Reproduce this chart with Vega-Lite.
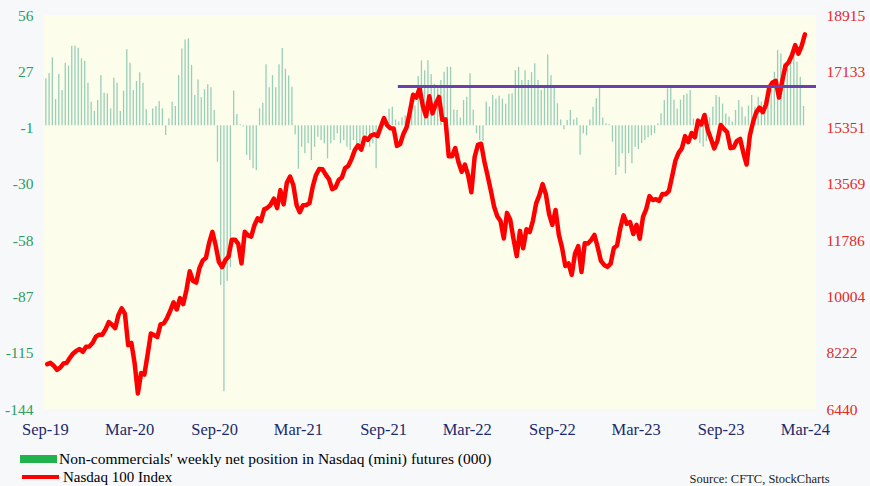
{
  "$schema": "https://vega.github.io/schema/vega-lite/v6.json",
  "width": 772,
  "height": 394,
  "autosize": {"type": "none"},
  "padding": {"left": 44, "top": 15, "right": 54, "bottom": 77},
  "background": "#f7f8fa",
  "config": {"view": {"fill": "#fdfdec", "stroke": null}, "font": "Liberation Serif"},
  "datasets": {
    "cot": [
      {"d":"2019-09-03","n":23.9},{"d":"2019-09-10","n":26.4},{"d":"2019-09-17","n":34.5},{"d":"2019-09-24","n":13.3},{"d":"2019-10-01","n":26},{"d":"2019-10-08","n":17.9},{"d":"2019-10-15","n":31.8},{"d":"2019-10-22","n":30.3},{"d":"2019-10-29","n":40.4},{"d":"2019-11-05","n":40.4},{"d":"2019-11-12","n":39.4},{"d":"2019-11-19","n":34},{"d":"2019-11-26","n":32.8},{"d":"2019-12-03","n":21.6},{"d":"2019-12-10","n":12},{"d":"2019-12-17","n":7.3},{"d":"2019-12-24","n":12.8},{"d":"2019-12-31","n":25.5},
      {"d":"2020-01-07","n":16.5},{"d":"2020-01-14","n":16.2},{"d":"2020-01-21","n":8.6},{"d":"2020-01-28","n":24.2},{"d":"2020-02-04","n":21.6},{"d":"2020-02-11","n":7.3},{"d":"2020-02-18","n":17.6},{"d":"2020-02-25","n":38.6},{"d":"2020-03-03","n":31.8},{"d":"2020-03-10","n":17.9},{"d":"2020-03-17","n":22.5},{"d":"2020-03-24","n":26.9},{"d":"2020-03-31","n":21.6},{"d":"2020-04-07","n":8.1},{"d":"2020-04-14","n":1},{"d":"2020-04-21","n":8.6},{"d":"2020-04-28","n":9.8},{"d":"2020-05-05","n":12.3},{"d":"2020-05-12","n":8.6},{"d":"2020-05-19","n":-4.9},{"d":"2020-05-26","n":3.6},{"d":"2020-06-02","n":12},{"d":"2020-06-09","n":9.8},{"d":"2020-06-16","n":25.5},{"d":"2020-06-23","n":39},{"d":"2020-06-30","n":43.6},{"d":"2020-07-07","n":44.1},{"d":"2020-07-14","n":30.6},{"d":"2020-07-21","n":15.4},{"d":"2020-07-28","n":23.3},{"d":"2020-08-04","n":14.2},{"d":"2020-08-11","n":18.3},{"d":"2020-08-18","n":20.8},{"d":"2020-08-25","n":19.3},{"d":"2020-09-01","n":7.8},{"d":"2020-09-08","n":-18.5},{"d":"2020-09-15","n":-81},{"d":"2020-09-22","n":-135},{"d":"2020-09-29","n":-79},{"d":"2020-10-06","n":-72},{"d":"2020-10-13","n":17.6},{"d":"2020-10-20","n":5.7},{"d":"2020-10-27","n":0.5},{"d":"2020-11-03","n":-0.5},{"d":"2020-11-10","n":-15},{"d":"2020-11-17","n":-17.6},{"d":"2020-11-24","n":-21.8},{"d":"2020-12-01","n":-22.7},{"d":"2020-12-08","n":8.6},{"d":"2020-12-15","n":11.5},{"d":"2020-12-22","n":31},{"d":"2020-12-29","n":19.3},
      {"d":"2021-01-05","n":25.5},{"d":"2021-01-12","n":19.3},{"d":"2021-01-19","n":31},{"d":"2021-01-26","n":39.2},{"d":"2021-02-02","n":28.7},{"d":"2021-02-09","n":25.3},{"d":"2021-02-16","n":19.6},{"d":"2021-02-23","n":-4.5},{"d":"2021-03-02","n":-22},{"d":"2021-03-09","n":-10.9},{"d":"2021-03-16","n":-14.2},{"d":"2021-03-23","n":-9.1},{"d":"2021-03-30","n":-17.6},{"d":"2021-04-06","n":-10.9},{"d":"2021-04-13","n":-5.8},{"d":"2021-04-20","n":-7.5},{"d":"2021-04-27","n":-9.1},{"d":"2021-05-04","n":-16.8},{"d":"2021-05-11","n":-9.1},{"d":"2021-05-18","n":-7.5},{"d":"2021-05-25","n":-4},{"d":"2021-06-01","n":-9.1},{"d":"2021-06-08","n":-7.5},{"d":"2021-06-15","n":-10.9},{"d":"2021-06-22","n":-12.5},{"d":"2021-06-29","n":-7.5},{"d":"2021-07-06","n":-10.9},{"d":"2021-07-13","n":-9.1},{"d":"2021-07-20","n":-5.8},{"d":"2021-07-27","n":-7.5},{"d":"2021-08-03","n":-10.9},{"d":"2021-08-10","n":-9.1},{"d":"2021-08-17","n":-21.8},{"d":"2021-08-24","n":-2},{"d":"2021-08-31","n":1},{"d":"2021-09-07","n":3},{"d":"2021-09-14","n":8.6},{"d":"2021-09-21","n":9.4},{"d":"2021-09-28","n":3},{"d":"2021-10-05","n":2},{"d":"2021-10-12","n":4},{"d":"2021-10-19","n":5},{"d":"2021-10-26","n":6},{"d":"2021-11-02","n":8},{"d":"2021-11-09","n":10},{"d":"2021-11-16","n":25},{"d":"2021-11-23","n":33},{"d":"2021-11-30","n":28},{"d":"2021-12-07","n":33},{"d":"2021-12-14","n":26},{"d":"2021-12-21","n":21},{"d":"2021-12-28","n":18.8},
      {"d":"2022-01-04","n":23},{"d":"2022-01-11","n":27.2},{"d":"2022-01-18","n":29.7},{"d":"2022-01-25","n":29.7},{"d":"2022-02-01","n":8},{"d":"2022-02-08","n":7.8},{"d":"2022-02-15","n":4},{"d":"2022-02-22","n":12.8},{"d":"2022-03-01","n":14.5},{"d":"2022-03-08","n":26.4},{"d":"2022-03-15","n":8},{"d":"2022-03-22","n":-4},{"d":"2022-03-29","n":-7.5},{"d":"2022-04-05","n":-8},{"d":"2022-04-12","n":12},{"d":"2022-04-19","n":9.5},{"d":"2022-04-26","n":15.4},{"d":"2022-05-03","n":13.5},{"d":"2022-05-10","n":15},{"d":"2022-05-17","n":13.5},{"d":"2022-05-24","n":11},{"d":"2022-05-31","n":16},{"d":"2022-06-07","n":16.2},{"d":"2022-06-14","n":28},{"d":"2022-06-21","n":29.7},{"d":"2022-06-28","n":23},{"d":"2022-07-05","n":28},{"d":"2022-07-12","n":23},{"d":"2022-07-19","n":27},{"d":"2022-07-26","n":31.5},{"d":"2022-08-02","n":23},{"d":"2022-08-09","n":17.9},{"d":"2022-08-16","n":20},{"d":"2022-08-23","n":36},{"d":"2022-08-30","n":25.5},{"d":"2022-09-06","n":19.6},{"d":"2022-09-13","n":11.2},{"d":"2022-09-20","n":3},{"d":"2022-09-27","n":-2},{"d":"2022-10-04","n":2.7},{"d":"2022-10-11","n":7.8},{"d":"2022-10-18","n":3},{"d":"2022-10-25","n":4},{"d":"2022-11-01","n":-15},{"d":"2022-11-08","n":-4},{"d":"2022-11-15","n":-5},{"d":"2022-11-22","n":3},{"d":"2022-11-29","n":9.4},{"d":"2022-12-06","n":13.7},{"d":"2022-12-13","n":19.6},{"d":"2022-12-20","n":4},{"d":"2022-12-27","n":1},
      {"d":"2023-01-03","n":0.5},{"d":"2023-01-10","n":-8.3},{"d":"2023-01-17","n":-25.2},{"d":"2023-01-24","n":-21},{"d":"2023-01-31","n":-14.2},{"d":"2023-02-07","n":-24.4},{"d":"2023-02-14","n":-14},{"d":"2023-02-21","n":-19.3},{"d":"2023-02-28","n":-10.9},{"d":"2023-03-07","n":-12},{"d":"2023-03-14","n":-9},{"d":"2023-03-21","n":-7.5},{"d":"2023-03-28","n":-6},{"d":"2023-04-04","n":-5},{"d":"2023-04-11","n":-4},{"d":"2023-04-18","n":1},{"d":"2023-04-25","n":6.1},{"d":"2023-05-02","n":12.8},{"d":"2023-05-09","n":18.8},{"d":"2023-05-16","n":20.5},{"d":"2023-05-23","n":13},{"d":"2023-05-30","n":8.6},{"d":"2023-06-06","n":13},{"d":"2023-06-13","n":15.4},{"d":"2023-06-20","n":16.2},{"d":"2023-06-27","n":17.9},{"d":"2023-07-04","n":3.5},{"d":"2023-07-11","n":-5.8},{"d":"2023-07-18","n":-9.1},{"d":"2023-07-25","n":-10.9},{"d":"2023-08-01","n":-8},{"d":"2023-08-08","n":4},{"d":"2023-08-15","n":9.4},{"d":"2023-08-22","n":15.4},{"d":"2023-08-29","n":14.5},{"d":"2023-09-05","n":11},{"d":"2023-09-12","n":6},{"d":"2023-09-19","n":4.5},{"d":"2023-09-26","n":2},{"d":"2023-10-03","n":7.8},{"d":"2023-10-10","n":12.8},{"d":"2023-10-17","n":9.4},{"d":"2023-10-24","n":4.5},{"d":"2023-10-31","n":10},{"d":"2023-11-07","n":15.4},{"d":"2023-11-14","n":9.4},{"d":"2023-11-21","n":14.5},{"d":"2023-11-28","n":12},{"d":"2023-12-05","n":11.2},{"d":"2023-12-12","n":19.6},{"d":"2023-12-19","n":18},{"d":"2023-12-26","n":27.2},
      {"d":"2024-01-02","n":38.2},{"d":"2024-01-09","n":36.5},{"d":"2024-01-16","n":31.5},{"d":"2024-01-23","n":30.5},{"d":"2024-01-30","n":33.1},{"d":"2024-02-06","n":37.4},{"d":"2024-02-13","n":32.3},{"d":"2024-02-20","n":24.7},{"d":"2024-02-27","n":9.8}
    ],
    "ndx": [
      {"d":"2019-09-06","v":7860},{"d":"2019-09-13","v":7900},{"d":"2019-09-20","v":7810},{"d":"2019-09-27","v":7680},{"d":"2019-10-04","v":7750},{"d":"2019-10-11","v":7880},{"d":"2019-10-18","v":7900},{"d":"2019-10-25","v":8060},{"d":"2019-11-01","v":8200},{"d":"2019-11-08","v":8280},{"d":"2019-11-15","v":8340},{"d":"2019-11-22","v":8250},{"d":"2019-11-29","v":8410},{"d":"2019-12-06","v":8420},{"d":"2019-12-13","v":8530},{"d":"2019-12-20","v":8730},{"d":"2019-12-27","v":8790},
      {"d":"2020-01-03","v":8790},{"d":"2020-01-10","v":8960},{"d":"2020-01-17","v":9190},{"d":"2020-01-24","v":9110},{"d":"2020-01-31","v":9000},{"d":"2020-02-07","v":9420},{"d":"2020-02-14","v":9630},{"d":"2020-02-21","v":9450},{"d":"2020-02-28","v":8460},{"d":"2020-03-06","v":8530},{"d":"2020-03-13","v":7880},{"d":"2020-03-20","v":6930},{"d":"2020-03-27","v":7580},{"d":"2020-04-03","v":7530},{"d":"2020-04-10","v":8160},{"d":"2020-04-17","v":8830},{"d":"2020-04-24","v":8780},{"d":"2020-05-01","v":8720},{"d":"2020-05-08","v":9120},{"d":"2020-05-15","v":9150},{"d":"2020-05-22","v":9320},{"d":"2020-05-29","v":9550},{"d":"2020-06-05","v":9820},{"d":"2020-06-12","v":9590},{"d":"2020-06-19","v":9950},{"d":"2020-06-26","v":9760},{"d":"2020-07-03","v":10210},{"d":"2020-07-10","v":10800},{"d":"2020-07-17","v":10500},{"d":"2020-07-24","v":10440},{"d":"2020-07-31","v":10900},{"d":"2020-08-07","v":11140},{"d":"2020-08-14","v":11220},{"d":"2020-08-21","v":11700},{"d":"2020-08-28","v":12050},{"d":"2020-09-04","v":11630},{"d":"2020-09-11","v":11100},{"d":"2020-09-18","v":10930},{"d":"2020-09-25","v":11150},{"d":"2020-10-02","v":11270},{"d":"2020-10-09","v":11800},{"d":"2020-10-16","v":11800},{"d":"2020-10-23","v":11670},{"d":"2020-10-30","v":11050},{"d":"2020-11-06","v":12050},{"d":"2020-11-13","v":11940},{"d":"2020-11-20","v":11900},{"d":"2020-11-27","v":12260},{"d":"2020-12-04","v":12480},{"d":"2020-12-11","v":12390},{"d":"2020-12-18","v":12760},{"d":"2020-12-24","v":12800},
      {"d":"2020-12-31","v":12890},{"d":"2021-01-08","v":13100},{"d":"2021-01-15","v":12800},{"d":"2021-01-22","v":13370},{"d":"2021-01-29","v":12920},{"d":"2021-02-05","v":13600},{"d":"2021-02-12","v":13800},{"d":"2021-02-19","v":13530},{"d":"2021-02-26","v":12900},{"d":"2021-03-05","v":12670},{"d":"2021-03-12","v":12890},{"d":"2021-03-19","v":12900},{"d":"2021-03-26","v":12960},{"d":"2021-04-02","v":13480},{"d":"2021-04-09","v":13850},{"d":"2021-04-16","v":14040},{"d":"2021-04-23","v":14030},{"d":"2021-04-30","v":13860},{"d":"2021-05-07","v":13720},{"d":"2021-05-14","v":13400},{"d":"2021-05-21","v":13450},{"d":"2021-05-28","v":13690},{"d":"2021-06-04","v":13770},{"d":"2021-06-11","v":14070},{"d":"2021-06-18","v":14140},{"d":"2021-06-25","v":14360},{"d":"2021-07-02","v":14640},{"d":"2021-07-09","v":14790},{"d":"2021-07-16","v":14650},{"d":"2021-07-23","v":15030},{"d":"2021-07-30","v":14960},{"d":"2021-08-06","v":15100},{"d":"2021-08-13","v":15140},{"d":"2021-08-20","v":15080},{"d":"2021-08-27","v":15370},{"d":"2021-09-03","v":15650},{"d":"2021-09-10","v":15420},{"d":"2021-09-17","v":15330},{"d":"2021-09-24","v":15320},{"d":"2021-10-01","v":14770},{"d":"2021-10-08","v":14830},{"d":"2021-10-15","v":15150},{"d":"2021-10-22","v":15360},{"d":"2021-10-29","v":15850},{"d":"2021-11-05","v":16390},{"d":"2021-11-12","v":16300},{"d":"2021-11-19","v":16600},{"d":"2021-11-26","v":16030},{"d":"2021-12-03","v":15710},{"d":"2021-12-10","v":16340},{"d":"2021-12-17","v":15800},{"d":"2021-12-24","v":16100},{"d":"2021-12-31","v":16320},
      {"d":"2022-01-07","v":15600},{"d":"2022-01-14","v":15610},{"d":"2022-01-21","v":14440},{"d":"2022-01-28","v":14440},{"d":"2022-02-04","v":14700},{"d":"2022-02-11","v":14260},{"d":"2022-02-18","v":13950},{"d":"2022-02-25","v":14180},{"d":"2022-03-04","v":13840},{"d":"2022-03-11","v":13300},{"d":"2022-03-18","v":14420},{"d":"2022-03-25","v":14800},{"d":"2022-04-01","v":14840},{"d":"2022-04-08","v":14280},{"d":"2022-04-14","v":13900},{"d":"2022-04-22","v":13360},{"d":"2022-04-29","v":12850},{"d":"2022-05-06","v":12540},{"d":"2022-05-13","v":12390},{"d":"2022-05-20","v":11840},{"d":"2022-05-27","v":12650},{"d":"2022-06-03","v":12430},{"d":"2022-06-10","v":11830},{"d":"2022-06-17","v":11280},{"d":"2022-06-24","v":12080},{"d":"2022-07-01","v":11530},{"d":"2022-07-08","v":12130},{"d":"2022-07-15","v":12040},{"d":"2022-07-22","v":12400},{"d":"2022-07-29","v":12950},{"d":"2022-08-05","v":13210},{"d":"2022-08-12","v":13560},{"d":"2022-08-19","v":13240},{"d":"2022-08-26","v":12610},{"d":"2022-09-02","v":12270},{"d":"2022-09-09","v":12740},{"d":"2022-09-16","v":11960},{"d":"2022-09-23","v":11550},{"d":"2022-09-30","v":10970},{"d":"2022-10-07","v":11050},{"d":"2022-10-14","v":10690},{"d":"2022-10-21","v":11360},{"d":"2022-10-28","v":11600},{"d":"2022-11-04","v":10780},{"d":"2022-11-11","v":11690},{"d":"2022-11-18","v":11680},{"d":"2022-11-25","v":11790},{"d":"2022-12-02","v":11950},{"d":"2022-12-09","v":11570},{"d":"2022-12-16","v":11130},{"d":"2022-12-23","v":11000},{"d":"2022-12-30","v":10940},
      {"d":"2023-01-06","v":11040},{"d":"2023-01-13","v":11540},{"d":"2023-01-20","v":11620},{"d":"2023-01-27","v":12170},{"d":"2023-02-03","v":12570},{"d":"2023-02-10","v":12300},{"d":"2023-02-17","v":12360},{"d":"2023-02-24","v":11980},{"d":"2023-03-03","v":12270},{"d":"2023-03-10","v":11830},{"d":"2023-03-17","v":12520},{"d":"2023-03-24","v":12770},{"d":"2023-03-31","v":13180},{"d":"2023-04-07","v":13060},{"d":"2023-04-14","v":13080},{"d":"2023-04-21","v":13030},{"d":"2023-04-28","v":13250},{"d":"2023-05-05","v":13240},{"d":"2023-05-12","v":13340},{"d":"2023-05-19","v":13810},{"d":"2023-05-26","v":14300},{"d":"2023-06-02","v":14550},{"d":"2023-06-09","v":14690},{"d":"2023-06-16","v":15080},{"d":"2023-06-23","v":14890},{"d":"2023-06-30","v":15180},{"d":"2023-07-07","v":15040},{"d":"2023-07-14","v":15570},{"d":"2023-07-21","v":15450},{"d":"2023-07-28","v":15750},{"d":"2023-08-04","v":15270},{"d":"2023-08-11","v":14990},{"d":"2023-08-18","v":14690},{"d":"2023-08-25","v":14940},{"d":"2023-09-01","v":15430},{"d":"2023-09-08","v":15310},{"d":"2023-09-15","v":15200},{"d":"2023-09-22","v":14700},{"d":"2023-09-29","v":14720},{"d":"2023-10-06","v":14930},{"d":"2023-10-13","v":14990},{"d":"2023-10-20","v":14550},{"d":"2023-10-27","v":14180},{"d":"2023-11-03","v":15100},{"d":"2023-11-10","v":15530},{"d":"2023-11-17","v":15840},{"d":"2023-11-24","v":15980},{"d":"2023-12-01","v":15840},{"d":"2023-12-08","v":16080},{"d":"2023-12-15","v":16620},{"d":"2023-12-22","v":16780},{"d":"2023-12-29","v":16830},
      {"d":"2024-01-05","v":16300},{"d":"2024-01-12","v":16830},{"d":"2024-01-19","v":17310},{"d":"2024-01-26","v":17420},{"d":"2024-02-02","v":17640},{"d":"2024-02-09","v":17960},{"d":"2024-02-16","v":17690},{"d":"2024-02-23","v":17940},{"d":"2024-03-01","v":18300}
    ],
    "level": [{"start":"2021-10-03","end":"2024-03-25","level":16650}]
  },
  "layer": [
    {
      "data": {"name": "cot"},
      "mark": {"type": "rule", "strokeWidth": 1.3},
      "encoding": {
        "x": {
          "field": "d", "type": "temporal",
          "scale": {"type": "utc", "domain": [{"year":2019,"month":8,"date":30,"utc":true},{"year":2024,"month":3,"date":25,"utc":true}]},
          "axis": {
            "values": [
              {"year":2019,"month":9,"date":1,"utc":true},{"year":2020,"month":3,"date":1,"utc":true},
              {"year":2020,"month":9,"date":1,"utc":true},{"year":2021,"month":3,"date":1,"utc":true},
              {"year":2021,"month":9,"date":1,"utc":true},{"year":2022,"month":3,"date":1,"utc":true},
              {"year":2022,"month":9,"date":1,"utc":true},{"year":2023,"month":3,"date":1,"utc":true},
              {"year":2023,"month":9,"date":1,"utc":true},{"year":2024,"month":3,"date":1,"utc":true}
            ],
            "labelExpr": "utcFormat(datum.value, '%b-%y')",
            "labelFont": "Liberation Serif", "labelFontSize": 16.5, "labelColor": "#1c2a6b",
            "labelPadding": 12, "ticks": false, "domain": false, "grid": false,
            "labelFlush": false, "labelOverlap": false, "labelBound": false,
            "title": "Source: CFTC, StockCharts", "titleFont": "Liberation Serif", "titleFontSize": 12.5,
            "titleFontWeight": "normal", "titleColor": "#222222", "titleAnchor": "end", "titleAlign": "right",
            "titleX": 785, "titleY": 69, "titleBaseline": "middle"
          }
        },
        "y": {
          "field": "n", "type": "quantitative",
          "scale": {"domain": [-144, 56], "nice": false, "zero": false},
          "axis": {
            "orient": "left", "title": null,
            "values": [56, 27.4286, -1.1429, -29.7143, -58.2857, -86.8571, -115.4286, -144],
            "labelExpr": "'' + round(datum.value)",
            "labelFont": "Liberation Serif", "labelFontSize": 15.5, "labelColor": "#2a9d63",
            "labelPadding": 11, "ticks": false, "domain": false, "grid": false,
            "labelFlush": false, "labelOverlap": false, "labelBound": false
          }
        },
        "y2": {"datum": 0},
        "color": {
          "datum": "Non-commercials' weekly net position in Nasdaq (mini) futures (000)",
          "scale": {"range": ["#97cfb8"]},
          "legend": {
            "orient": "none", "legendX": -24, "legendY": 425.5, "title": null, "padding": 0,
            "symbolType": "M-1,-0.216H1V0.216H-1Z", "symbolSize": 1369,
            "labelFont": "Liberation Serif", "labelFontSize": 15.5, "labelColor": "#000000",
            "labelOffset": 2, "labelLimit": 1000,
            "encode": {"symbols": {"update": {"fill": {"value": "#1fb24d"}, "stroke": {"value": "#1fb24d"}, "strokeWidth": {"value": 0}}}}
          }
        }
      }
    },
    {
      "layer": [
        {
          "data": {"name": "ndx"},
          "mark": {"type": "line", "strokeWidth": 4.5, "strokeJoin": "round", "strokeCap": "round"},
          "encoding": {
            "x": {"field": "d", "type": "temporal"},
            "y": {
              "field": "v", "type": "quantitative",
              "scale": {"domain": [6440, 18915], "nice": false, "zero": false},
              "axis": {
                "orient": "right", "title": null,
                "values": [6440, 8222.14, 10004.29, 11786.43, 13568.57, 15350.71, 17132.86, 18915],
                "labelExpr": "'' + round(datum.value)",
                "labelFont": "Liberation Serif", "labelFontSize": 15.5, "labelColor": "#e0292b",
                "labelPadding": 10, "ticks": false, "domain": false, "grid": false,
                "labelFlush": false, "labelOverlap": false, "labelBound": false
              }
            },
            "stroke": {
              "datum": "Nasdaq 100 Index",
              "scale": {"range": ["#ff0000"]},
              "legend": {
                "orient": "none", "legendX": -24, "legendY": 441.5, "title": null, "padding": 0,
                "symbolType": "stroke", "symbolSize": 1369, "symbolStrokeWidth": 4,
                "labelFont": "Liberation Serif", "labelFontSize": 15, "labelColor": "#000000",
                "labelOffset": 2, "labelLimit": 1000
              }
            }
          }
        },
        {
          "data": {"name": "level"},
          "mark": {"type": "rule", "color": "#6a3fae", "strokeWidth": 3},
          "encoding": {
            "x": {"field": "start", "type": "temporal"},
            "x2": {"field": "end"},
            "y": {"field": "level", "type": "quantitative"}
          }
        }
      ]
    }
  ],
  "resolve": {"scale": {"y": "independent", "color": "independent"}, "axis": {"y": "independent"}}
}
